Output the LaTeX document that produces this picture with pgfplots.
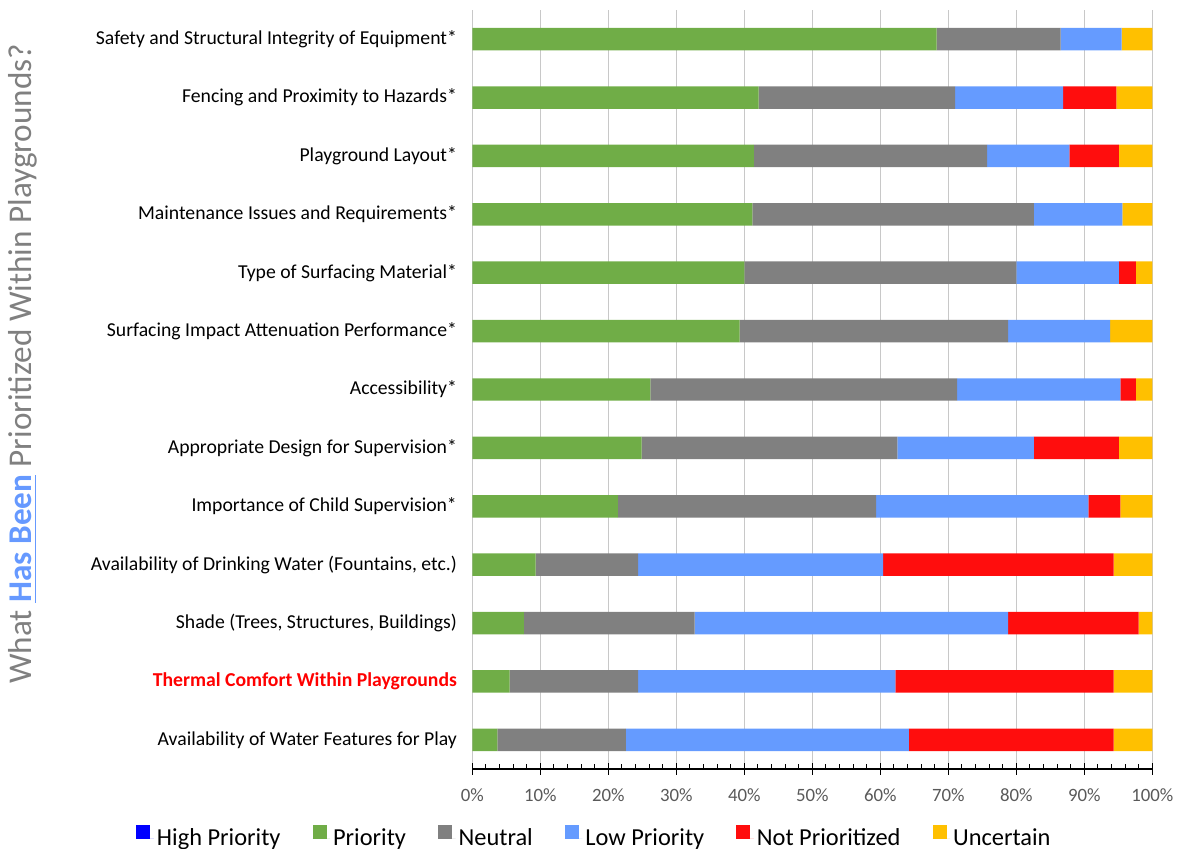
\documentclass[border=0pt]{standalone}
\usepackage{pgfplots}
\pgfplotsset{compat=1.18}
\usepackage{pgfplotstable}
\usepackage{fontspec}
\setmainfont{Carlito}
\definecolor{cHP}{HTML}{0000FF}
\definecolor{cP}{HTML}{70AD47}
\definecolor{cN}{HTML}{808080}
\definecolor{cL}{HTML}{659BFF}
\definecolor{cNP}{HTML}{FF0D0D}
\definecolor{cU}{HTML}{FFC000}
\definecolor{tickgray}{HTML}{595959}
\definecolor{labgray}{HTML}{808080}
\definecolor{hasblue}{HTML}{6699FF}
\definecolor{gridgray}{HTML}{C8C8C8}

\pgfplotstableread{
y HP P N L NP U
12 0 68.3 18.2 9.0 0 4.5
11 0 42.1 28.9 15.9 7.8 5.3
10 0 41.4 34.3 12.1 7.3 4.9
9 0 41.2 41.4 13.0 0 4.4
8 0 40.0 40.0 15.1 2.5 2.4
7 0 39.3 39.5 15.0 0 6.2
6 0 26.2 45.1 24.0 2.3 2.4
5 0 24.9 37.6 20.1 12.5 4.9
4 0 21.4 38.0 31.2 4.7 4.7
3 0 9.3 15.1 36.0 33.9 5.7
2 0 7.6 25.1 46.1 19.2 2.0
1 0 5.5 18.9 37.8 32.1 5.7
0 0 3.7 18.9 41.6 30.1 5.7
}\data

\begin{document}
\begin{tikzpicture}
\useasboundingbox (0,0) rectangle (592.5pt,-424.5pt);
\begin{axis}[
  at={(236.15pt,-384.5pt)}, anchor=south west,
  width=340pt, height=379.5pt, scale only axis,
  xbar stacked, bar width=0.385,
  xmin=0, xmax=100, ymin=-0.5, ymax=12.5,
  xtick={0,10,...,100},
  xticklabels={0\%,10\%,20\%,30\%,40\%,50\%,60\%,70\%,80\%,90\%,100\%},
  minor x tick num=4,
  ytick={0,...,12},
  yticklabels={
    Availability of Water Features for Play,
    {\textbf{\textcolor{red}{Thermal Comfort Within Playgrounds}}},
    {Shade (Trees, Structures, Buildings)},
    {Availability of Drinking Water (Fountains, etc.)},
    Importance of Child Supervision*,
    Appropriate Design for Supervision*,
    Accessibility*,
    Surfacing Impact Attenuation Performance*,
    Type of Surfacing Material*,
    Maintenance Issues and Requirements*,
    Playground Layout*,
    Fencing and Proximity to Hazards*,
    Safety and Structural Integrity of Equipment*},
  axis x line*=bottom, axis y line*=left,
  y axis line style={draw=none},
  ytick style={draw=none},
  xmajorgrids,
  major grid style={draw=gridgray, line width=0.75pt},
  x axis line style={black, line width=0.6pt, -},
  tick align=inside,
  major tick length=6pt, minor tick length=2.5pt,
  xtick style={black, line width=0.5pt},
  every major x tick/.append style={yshift=-3pt},
  yticklabel style={font=\fontsize{9.85}{11}\selectfont, text=black, inner sep=0pt, xshift=-7.5pt, anchor=east},
  xticklabel style={font=\fontsize{9.4}{11}\selectfont, text=tickgray, anchor=base, yshift=-16.35pt, inner sep=0pt},
  legend columns=-1,
  legend style={at={(axis description cs:0.1804,0)}, anchor=center, yshift=-34.5pt,
    draw=none, fill=none, font=\fontsize{12.2}{14}\selectfont,
    /tikz/every even column/.append style={column sep=14.5pt},
    nodes={inner sep=1.5pt}},
  legend image code/.code={\path (0pt,0pt) -- (8.8pt,0pt);\fill[#1] (0pt,0pt) rectangle (7pt,7pt);},
]
\addplot[fill=cHP, draw=none] table[x=HP, y=y] {\data};
\addlegendentry{High Priority}
\addplot[fill=cP, draw=none] table[x=P, y=y] {\data};
\addlegendentry{Priority}
\addplot[fill=cN, draw=none] table[x=N, y=y] {\data};
\addlegendentry{Neutral}
\addplot[fill=cL, draw=none] table[x=L, y=y] {\data};
\addlegendentry{Low Priority}
\addplot[fill=cNP, draw=none] table[x=NP, y=y] {\data};
\addlegendentry{Not Prioritized}
\addplot[fill=cU, draw=none] table[x=U, y=y] {\data};
\addlegendentry{Uncertain}
\end{axis}
\node[rotate=90, anchor=base, text=labgray, font=\fontsize{16.6}{19}\selectfont, inner sep=0pt]
  at (16pt,-182pt) {What \textcolor{hasblue}{\textbf{\underline{Has Been}}} Prioritized Within Playgrounds?};
\end{tikzpicture}
\end{document}
